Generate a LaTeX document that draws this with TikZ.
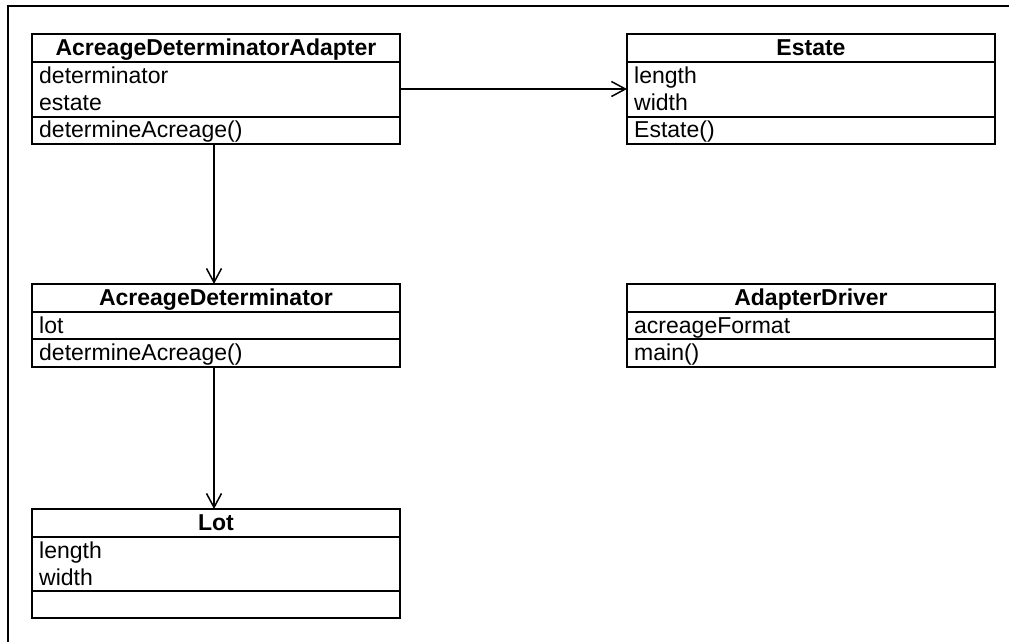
\documentclass[tikz,border=0pt]{standalone}
\usepackage{fontspec}
\setmainfont{Liberation Sans}
\usetikzlibrary{arrows.meta}
\begin{document}
\begin{tikzpicture}[x=1pt,y=-1pt,
  cls/.style={draw, line width=1.6pt, minimum width=368pt, inner sep=0pt, outer sep=0pt},
  hd/.style={anchor=base, inner sep=0pt, font=\fontsize{23}{27}\selectfont\bfseries},
  txt/.style={anchor=base west, inner sep=0pt, font=\fontsize{23}{27}\selectfont},
  conn/.style={line width=1.5pt, -{Straight Barb[length=14pt,width=15pt,line width=1.5pt]}},
  div/.style={line width=1.6pt}]
\useasboundingbox (0,0) rectangle (1009,641);
\begin{scope}
\clip (0,0) rectangle (1009,641);
\draw[line width=2.2pt] (8,660) -- (8,6) -- (1030,6);
\end{scope}
% class boxes
\node[cls, minimum height=110pt] (ada) at (216,89) {};
\node[cls, minimum height=110pt] (est) at (811,89) {};
\node[cls, minimum height=83pt] (det) at (216,325.5) {};
\node[cls, minimum height=83pt] (drv) at (811,325.5) {};
\node[cls, minimum height=109pt] (lot) at (216,563.5) {};
% dividers
\draw[div] (ada.west |- 0,62) -- (ada.east |- 0,62);
\draw[div] (ada.west |- 0,117) -- (ada.east |- 0,117);
\draw[div] (est.west |- 0,62) -- (est.east |- 0,62);
\draw[div] (est.west |- 0,117) -- (est.east |- 0,117);
\draw[div] (det.west |- 0,312) -- (det.east |- 0,312);
\draw[div] (det.west |- 0,339) -- (det.east |- 0,339);
\draw[div] (drv.west |- 0,312) -- (drv.east |- 0,312);
\draw[div] (drv.west |- 0,339) -- (drv.east |- 0,339);
\draw[div] (lot.west |- 0,537) -- (lot.east |- 0,537);
\draw[div] (lot.west |- 0,591) -- (lot.east |- 0,591);
% texts
\node[hd] (adah) at (216,55) {AcreageDeterminatorAdapter};
\node[txt] (ada1) at (39,83) {determinator};
\node[txt] (ada2) at (39,110) {estate};
\node[txt] (ada3) at (39,137) {determineAcreage()};
\node[hd] (esth) at (811,55) {Estate};
\node[txt] (est1) at (634,83) {length};
\node[txt] (est2) at (634,110) {width};
\node[txt] (est3) at (634,137) {Estate()};
\node[hd] (deth) at (216,305) {AcreageDeterminator};
\node[txt] (det1) at (39,333) {lot};
\node[txt] (det2) at (39,360) {determineAcreage()};
\node[hd] (drvh) at (811,305) {AdapterDriver};
\node[txt] (drv1) at (634,333) {acreageFormat};
\node[txt] (drv2) at (634,360) {main()};
\node[hd] (loth) at (216,530) {Lot};
\node[txt] (lot1) at (39,558) {length};
\node[txt] (lot2) at (39,585) {width};
% connectors
\draw[conn] (ada.east) -- (est.west);
\draw[conn] ([xshift=-2pt]ada.south) -- ([xshift=-2pt]det.north);
\draw[conn] ([xshift=-2pt]det.south) -- ([xshift=-2pt]lot.north);
\end{tikzpicture}
\end{document}
